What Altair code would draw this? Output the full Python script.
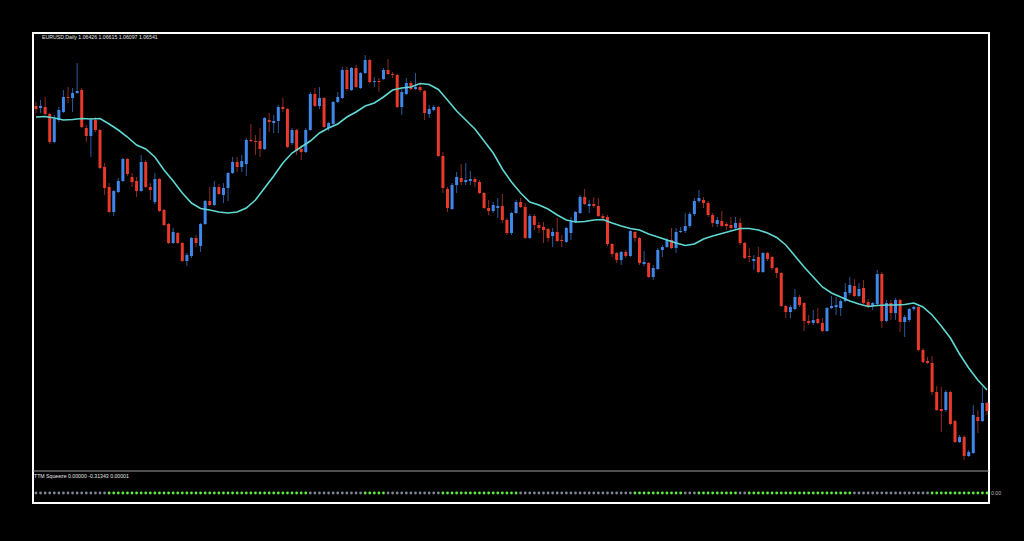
import altair as alt
import pandas as pd

# ---------------- data (EURUSD daily candles) ----------------
opens = [
    1.0954, 1.0952, 1.0953, 1.0946, 1.0918, 1.0940, 1.0948, 1.0963, 1.0962, 1.0967,
    1.0970, 1.0932, 1.0924, 1.0940, 1.0930, 1.0893, 1.0873, 1.0848, 1.0868, 1.0879,
    1.0901, 1.0883, 1.0879, 1.0869, 1.0898, 1.0873, 1.0858, 1.0881, 1.0850, 1.0836,
    1.0817, 1.0827, 1.0817, 1.0799, 1.0804, 1.0822, 1.0814, 1.0836, 1.0859, 1.0855,
    1.0873, 1.0865, 1.0872, 1.0887, 1.0898, 1.0893, 1.0896, 1.0920, 1.0919, 1.0919,
    1.0911, 1.0940, 1.0937, 1.0939, 1.0953, 1.0951, 1.0917, 1.0930, 1.0911, 1.0908,
    1.0930, 1.0966, 1.0954, 1.0962, 1.0932, 1.0936, 1.0958, 1.0962, 1.0990, 1.0970,
    1.0992, 1.0972, 1.0987, 1.1000, 1.0978, 1.0979, 1.0981, 1.0990, 1.0986, 1.0985,
    1.0953, 1.0966, 1.0977, 1.0971, 1.0973, 1.0969, 1.0946, 1.0950, 1.0953, 1.0904,
    1.0871, 1.0851, 1.0875, 1.0882, 1.0878, 1.0879, 1.0881, 1.0878, 1.0867, 1.0852,
    1.0849, 1.0852, 1.0854, 1.0840, 1.0827, 1.0847, 1.0858, 1.0853, 1.0822, 1.0844,
    1.0835, 1.0833, 1.0831, 1.0824, 1.0828, 1.0820, 1.0818, 1.0827, 1.0838, 1.0847,
    1.0863, 1.0854, 1.0856, 1.0854, 1.0844, 1.0843, 1.0816, 1.0807, 1.0800, 1.0808,
    1.0804, 1.0828, 1.0822, 1.0796, 1.0797, 1.0783, 1.0791, 1.0810, 1.0813, 1.0820,
    1.0812, 1.0828, 1.0829, 1.0834, 1.0846, 1.0859, 1.0860, 1.0857, 1.0845, 1.0836,
    1.0839, 1.0836, 1.0835, 1.0832, 1.0837, 1.0817, 1.0804, 1.0799, 1.0803, 1.0788,
    1.0807, 1.0803, 1.0792, 1.0787, 1.0754, 1.0748, 1.0751, 1.0763, 1.0757, 1.0739,
    1.0737, 1.0741, 1.0737, 1.0729, 1.0752, 1.0753, 1.0752, 1.0759, 1.0767, 1.0774,
    1.0764, 1.0772, 1.0758, 1.0754, 1.0756, 1.0786, 1.0739, 1.0757, 1.0747, 1.0760,
    1.0738, 1.0740, 1.0751, 1.0753, 1.0710, 1.0699, 1.0697, 1.0668, 1.0651, 1.0650,
    1.0668, 1.0639, 1.0618, 1.0623, 1.0604, 1.0607, 1.0643, 1.0639, 1.0657,
]
highs = [
    1.0958, 1.0960, 1.0963, 1.0947, 1.0945, 1.0953, 1.0970, 1.0973, 1.0972, 1.0997,
    1.0972, 1.0935, 1.0942, 1.0943, 1.0931, 1.0897, 1.0877, 1.0870, 1.0882, 1.0902,
    1.0902, 1.0887, 1.0883, 1.0905, 1.0900, 1.0877, 1.0887, 1.0882, 1.0851, 1.0837,
    1.0832, 1.0828, 1.0818, 1.0807, 1.0823, 1.0825, 1.0837, 1.0860, 1.0873, 1.0879,
    1.0876, 1.0877, 1.0888, 1.0903, 1.0903, 1.0905, 1.0922, 1.0936, 1.0925, 1.0932,
    1.0943, 1.0947, 1.0945, 1.0955, 1.0962, 1.0952, 1.0932, 1.0931, 1.0915, 1.0932,
    1.0968, 1.0972, 1.0973, 1.0963, 1.0938, 1.0959, 1.0968, 1.0993, 1.0993, 1.0993,
    1.0995, 1.0988, 1.1005, 1.1001, 1.0983, 1.0982, 1.0992, 1.1001, 1.0988, 1.0986,
    1.0973, 1.0982, 1.0979, 1.0987, 1.0977, 1.0970, 1.0955, 1.0955, 1.0954, 1.0908,
    1.0873, 1.0877, 1.0888, 1.0896, 1.0897, 1.0889, 1.0883, 1.0880, 1.0868, 1.0860,
    1.0858, 1.0862, 1.0866, 1.0842, 1.0848, 1.0860, 1.0862, 1.0857, 1.0846, 1.0846,
    1.0838, 1.0838, 1.0832, 1.0832, 1.0842, 1.0825, 1.0833, 1.0843, 1.0849, 1.0865,
    1.0871, 1.0860, 1.0863, 1.0862, 1.0846, 1.0845, 1.0817, 1.0808, 1.0809, 1.0810,
    1.0830, 1.0829, 1.0823, 1.0809, 1.0798, 1.0795, 1.0812, 1.0815, 1.0822, 1.0832,
    1.0832, 1.0833, 1.0847, 1.0848, 1.0862, 1.0870, 1.0863, 1.0859, 1.0847, 1.0843,
    1.0849, 1.0838, 1.0843, 1.0843, 1.0842, 1.0818, 1.0812, 1.0805, 1.0813, 1.0808,
    1.0808, 1.0804, 1.0793, 1.0788, 1.0755, 1.0755, 1.0771, 1.0765, 1.0758, 1.0745,
    1.0750, 1.0752, 1.0742, 1.0753, 1.0764, 1.0763, 1.0761, 1.0777, 1.0783, 1.0781,
    1.0777, 1.0780, 1.0761, 1.0758, 1.0790, 1.0788, 1.0760, 1.0760, 1.0762, 1.0761,
    1.0745, 1.0752, 1.0754, 1.0754, 1.0712, 1.0703, 1.0704, 1.0674, 1.0673, 1.0670,
    1.0669, 1.0640, 1.0625, 1.0625, 1.0610, 1.0655, 1.0650, 1.0673, 1.0658,
]
lows = [
    1.0947, 1.0947, 1.0945, 1.0916, 1.0917, 1.0938, 1.0947, 1.0957, 1.0948, 1.0966,
    1.0932, 1.0918, 1.0903, 1.0928, 1.0891, 1.0865, 1.0847, 1.0844, 1.0867, 1.0878,
    1.0884, 1.0873, 1.0863, 1.0868, 1.0872, 1.0860, 1.0856, 1.0848, 1.0834, 1.0816,
    1.0816, 1.0816, 1.0798, 1.0794, 1.0802, 1.0813, 1.0808, 1.0835, 1.0854, 1.0854,
    1.0865, 1.0857, 1.0859, 1.0886, 1.0888, 1.0888, 1.0884, 1.0918, 1.0905, 1.0903,
    1.0910, 1.0928, 1.0927, 1.0927, 1.0948, 1.0912, 1.0915, 1.0905, 1.0900, 1.0907,
    1.0929, 1.0953, 1.0951, 1.0932, 1.0929, 1.0934, 1.0957, 1.0961, 1.0969, 1.0969,
    1.0972, 1.0971, 1.0986, 1.0977, 1.0973, 1.0968, 1.0980, 1.0985, 1.0982, 1.0952,
    1.0945, 1.0965, 1.0970, 1.0970, 1.0968, 1.0940, 1.0942, 1.0949, 1.0903, 1.0867,
    1.0848, 1.0850, 1.0867, 1.0875, 1.0875, 1.0875, 1.0873, 1.0866, 1.0851, 1.0845,
    1.0847, 1.0842, 1.0837, 1.0825, 1.0825, 1.0846, 1.0852, 1.0821, 1.0821, 1.0830,
    1.0827, 1.0817, 1.0818, 1.0813, 1.0818, 1.0813, 1.0817, 1.0820, 1.0837, 1.0846,
    1.0855, 1.0847, 1.0852, 1.0843, 1.0838, 1.0814, 1.0803, 1.0797, 1.0795, 1.0802,
    1.0803, 1.0818, 1.0795, 1.0794, 1.0782, 1.0780, 1.0790, 1.0803, 1.0812, 1.0811,
    1.0807, 1.0827, 1.0827, 1.0832, 1.0844, 1.0857, 1.0852, 1.0843, 1.0833, 1.0833,
    1.0833, 1.0830, 1.0830, 1.0830, 1.0815, 1.0801, 1.0798, 1.0790, 1.0787, 1.0787,
    1.0799, 1.0790, 1.0782, 1.0753, 1.0742, 1.0742, 1.0750, 1.0753, 1.0729, 1.0735,
    1.0735, 1.0736, 1.0728, 1.0728, 1.0751, 1.0745, 1.0744, 1.0758, 1.0765, 1.0763,
    1.0763, 1.0756, 1.0752, 1.0750, 1.0755, 1.0732, 1.0738, 1.0740, 1.0740, 1.0728,
    1.0723, 1.0738, 1.0749, 1.0709, 1.0697, 1.0696, 1.0665, 1.0649, 1.0628, 1.0648,
    1.0635, 1.0617, 1.0617, 1.0600, 1.0603, 1.0606, 1.0627, 1.0638, 1.0645,
]
closes = [
    1.0951, 1.0954, 1.0946, 1.0918, 1.0941, 1.0950, 1.0963, 1.0962, 1.0967, 1.0969,
    1.0933, 1.0924, 1.0940, 1.0930, 1.0892, 1.0872, 1.0848, 1.0869, 1.0879, 1.0901,
    1.0886, 1.0878, 1.0869, 1.0898, 1.0873, 1.0870, 1.0881, 1.0849, 1.0835, 1.0817,
    1.0828, 1.0817, 1.0799, 1.0805, 1.0822, 1.0817, 1.0836, 1.0859, 1.0855, 1.0873,
    1.0866, 1.0872, 1.0887, 1.0898, 1.0893, 1.0899, 1.0920, 1.0919, 1.0918, 1.0911,
    1.0942, 1.0938, 1.0939, 1.0953, 1.0951, 1.0913, 1.0930, 1.0909, 1.0908, 1.0930,
    1.0966, 1.0954, 1.0962, 1.0933, 1.0937, 1.0958, 1.0963, 1.0990, 1.0971, 1.0992,
    1.0973, 1.0987, 1.1000, 1.0978, 1.0979, 1.0978, 1.0990, 1.0986, 1.0985, 1.0953,
    1.0968, 1.0977, 1.0971, 1.0973, 1.0970, 1.0947, 1.0951, 1.0953, 1.0904, 1.0872,
    1.0852, 1.0875, 1.0883, 1.0878, 1.0880, 1.0881, 1.0878, 1.0867, 1.0852, 1.0849,
    1.0855, 1.0854, 1.0840, 1.0827, 1.0847, 1.0858, 1.0853, 1.0822, 1.0844, 1.0835,
    1.0832, 1.0830, 1.0822, 1.0828, 1.0819, 1.0819, 1.0832, 1.0838, 1.0848, 1.0863,
    1.0856, 1.0856, 1.0854, 1.0844, 1.0842, 1.0816, 1.0806, 1.0800, 1.0808, 1.0804,
    1.0829, 1.0822, 1.0797, 1.0798, 1.0783, 1.0792, 1.0810, 1.0813, 1.0820, 1.0812,
    1.0828, 1.0829, 1.0834, 1.0846, 1.0859, 1.0862, 1.0857, 1.0845, 1.0837, 1.0840,
    1.0834, 1.0834, 1.0832, 1.0837, 1.0817, 1.0802, 1.0803, 1.0801, 1.0788, 1.0807,
    1.0801, 1.0792, 1.0787, 1.0754, 1.0748, 1.0753, 1.0763, 1.0755, 1.0739, 1.0737,
    1.0740, 1.0737, 1.0729, 1.0752, 1.0754, 1.0755, 1.0759, 1.0768, 1.0775, 1.0764,
    1.0771, 1.0757, 1.0754, 1.0757, 1.0786, 1.0739, 1.0757, 1.0747, 1.0760, 1.0738,
    1.0743, 1.0751, 1.0753, 1.0710, 1.0698, 1.0697, 1.0668, 1.0650, 1.0649, 1.0668,
    1.0636, 1.0618, 1.0623, 1.0604, 1.0608, 1.0645, 1.0639, 1.0657, 1.0649,
]

# moving average (cyan line), read every second bar
ma_bars = list(range(1, 210, 2))
ma_values = [
    1.0943, 1.09435, 1.0942, 1.0940, 1.09405, 1.09415, 1.0941, 1.09415, 1.0936, 1.0930,
    1.0923, 1.0915, 1.0911, 1.0903, 1.0890, 1.0879, 1.0867, 1.0857, 1.08515, 1.0850,
    1.0848, 1.0847, 1.0848, 1.0852, 1.0860, 1.0872, 1.0884, 1.0897, 1.0907, 1.0913,
    1.0919, 1.0927, 1.0932, 1.0936, 1.0943, 1.0948, 1.0954, 1.0957, 1.0963, 1.0970,
    1.0972, 1.0973, 1.09765, 1.09755, 1.09705, 1.0960, 1.0949, 1.0940, 1.0931, 1.0919,
    1.0907, 1.0891, 1.0878, 1.0867, 1.0858, 1.0855, 1.0851, 1.0845, 1.0840, 1.0838,
    1.08385, 1.0840, 1.08405, 1.0837, 1.0834, 1.08315, 1.0830, 1.0826, 1.0823, 1.0820,
    1.0817, 1.08145, 1.0816, 1.0821, 1.0824, 1.08265, 1.0829, 1.08315, 1.08315, 1.0830,
    1.0827, 1.08225, 1.0815, 1.0804, 1.0793, 1.0783, 1.0773, 1.0767, 1.0763, 1.0759,
    1.0756, 1.07535, 1.07545, 1.0755, 1.0755, 1.07555, 1.0757, 1.0753, 1.0745, 1.0734,
    1.0722, 1.0706, 1.0692, 1.0680, 1.0670,
]

# TTM Squeeze dots: (state, number of consecutive bars); 1 = green, 0 = grey
squeeze_runs = [(0, 16), (1, 44), (0, 12), (1, 5), (0, 12), (1, 17), (0, 25),
                (1, 11), (0, 3), (1, 9), (0, 2), (1, 23), (0, 17), (1, 13)]
squeeze_level = 0.0

title_text = "EURUSD,Daily  1.06426 1.06615 1.06097 1.06541"
indicator_text = "TTM Squeeze 0.00000 -0.31343 0.00001"
level_label = "0.00"

# ---------------- styling ----------------
UP_BODY, DOWN_BODY = "#3f87e8", "#e8392b"
UP_WICK, DOWN_WICK = "#2a5a9c", "#8c2a20"
MA_COLOR = "#5fd8d2"
SQ_ON, SQ_OFF = "#5cf03a", "#7d8494"
FONT = "Liberation Sans"

W, H = 956, 470

# paint the page itself black (the chart sits inside an 8px page margin)
try:
    import altair.utils.html as _ah
    _templates = getattr(_ah, "TEMPLATES", None)
    if isinstance(_templates, dict):
        class _BlackPage:
            def __init__(self, base):
                self.base = base

            def render(self, *args, **kwargs):
                out = self.base.render(*args, **kwargs)
                return out.replace(
                    "<head>",
                    "<head>\n<style>html, body { background: #000000; }</style>", 1)

        for _key in ("standard", "universal"):
            if _key in _templates:
                _templates[_key] = _BlackPage(_templates[_key])
except Exception:
    pass

bars = list(range(1, len(opens) + 1))
candles = pd.DataFrame({
    "bar": bars, "open": opens, "high": highs, "low": lows, "close": closes,
})
up = candles["close"] >= candles["open"]
candles["body_color"] = [UP_BODY if u else DOWN_BODY for u in up]
candles["wick_color"] = [UP_WICK if u else DOWN_WICK for u in up]

ma = pd.DataFrame({"bar": ma_bars, "ma": ma_values})

flags = []
for state, count in squeeze_runs:
    flags.extend([state] * count)
dots = pd.DataFrame({
    "bar": bars,
    "val": [squeeze_level] * len(bars),
    "dot_color": [SQ_ON if f else SQ_OFF for f in flags],
})

x_scale = alt.Scale(domain=[0.344, 209.44], nice=False, zero=False, padding=0)
price_scale = alt.Scale(domain=[1.0557, 1.1027], nice=False, zero=False, padding=0)
ind_scale = alt.Scale(domain=[-0.010, 0.460], nice=False, zero=False, padding=0)

X = alt.X("bar:Q", scale=x_scale, axis=None)

wicks = alt.Chart(candles).mark_rule(strokeWidth=1).encode(
    x=X,
    y=alt.Y("low:Q", scale=price_scale, axis=None),
    y2="high:Q",
    color=alt.Color("wick_color:N", scale=None),
)

bodies = alt.Chart(candles).mark_bar(size=3).encode(
    x=X,
    y=alt.Y("open:Q", scale=price_scale, axis=None),
    y2="close:Q",
    color=alt.Color("body_color:N", scale=None),
)

ma_line = alt.Chart(ma).mark_line(color=MA_COLOR, strokeWidth=1.6).encode(
    x=X,
    y=alt.Y("ma:Q", scale=price_scale, axis=None),
)

separator = alt.Chart(pd.DataFrame({"sep": [0.022]})).mark_rule(
    color="#9c9c9c", strokeWidth=1
).encode(y=alt.Y("sep:Q", scale=ind_scale, axis=None))

dot_layer = alt.Chart(dots).mark_circle(size=8, opacity=1).encode(
    x=X,
    y=alt.Y("val:Q", scale=ind_scale, axis=None),
    color=alt.Color("dot_color:N", scale=None),
)

title_layer = alt.Chart(pd.DataFrame({"t": [title_text]})).mark_text(
    align="left", baseline="middle", font=FONT, fontSize=5.2, color="#e6e6e6"
).encode(text="t:N", x=alt.value(9), y=alt.value(4))

ind_label = alt.Chart(pd.DataFrame({"t": [indicator_text]})).mark_text(
    align="left", baseline="middle", font=FONT, fontSize=5.2, color="#e6e6e6"
).encode(text="t:N", x=alt.value(1), y=alt.value(443))

level_layer = alt.Chart(pd.DataFrame({"t": [level_label]})).mark_text(
    align="left", baseline="middle", font=FONT, fontSize=5.2, color="#bdbdbd"
).encode(text="t:N", x=alt.value(958), y=alt.value(460))

chart = alt.layer(
    wicks, bodies, ma_line, separator, dot_layer, title_layer, ind_label, level_layer
).resolve_scale(
    y="independent"
).properties(
    width=W,
    height=H,
    padding={"left": 25, "top": 25, "right": 27, "bottom": 28},
    autosize=alt.AutoSizeParams(type="none"),
    background="#000000",
).configure_view(
    stroke="#ffffff", strokeWidth=2, fill="#000000"
)

chart.save("out.html", embed_options={"renderer": "svg", "actions": False})
